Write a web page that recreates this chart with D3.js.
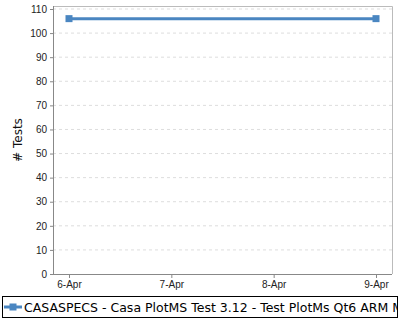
<!DOCTYPE html>
<html>
<head>
<meta charset="utf-8">
<script src="https://cdn.jsdelivr.net/npm/d3@7"></script>
<style>
  body { margin: 0; background: #fff; }
  svg { display: block; font-family: "DejaVu Sans", sans-serif; }
  .tick text { font-size: 10px; fill: #222; }
</style>
</head>
<body>
<svg id="chart" width="400" height="320"></svg>
<script>
const dates = ["6-Apr", "7-Apr", "8-Apr", "9-Apr"]
const pointDates = ["6-Apr", "9-Apr"]
const testCounts = [106, 106]
const yTicks = [0, 10, 20, 30, 40, 50, 60, 70, 80, 90, 100, 110]
const seriesName = "CASASPECS - Casa PlotMS Test 3.12 - Test PlotMs Qt6 ARM M"

const W = 400, H = 320
const M = { top: 6, right: 8, bottom: 46, left: 53 }
const color = "#4a86c1"

const svg = d3.select("#chart")

const x = d3.scalePoint().domain(dates).range([M.left + 16, W - M.right - 16])
const y = d3.scaleLinear().domain([0, 110]).range([H - M.bottom, M.top + 3])

// grid
svg.append("g")
  .selectAll("line")
  .data(yTicks.filter(d => d > 0))
  .join("line")
  .attr("x1", M.left).attr("x2", W - M.right)
  .attr("y1", d => y(d)).attr("y2", d => y(d))
  .attr("stroke", "#ddd")
  .attr("stroke-dasharray", "3,3")

// frame top/right
svg.append("path")
  .attr("d", `M${M.left},${M.top}.5H${W - M.right}.5V${H - M.bottom}`)
  .attr("fill", "none")
  .attr("stroke", "#bbb")

const yAxis = svg.append("g")
  .attr("transform", `translate(${M.left},0)`)
  .call(d3.axisLeft(y).tickValues(yTicks).tickSize(3).tickPadding(3))
yAxis.select(".domain").attr("stroke", "#888").attr("d", `M0.5,${M.top}V${H - M.bottom}`)
yAxis.selectAll(".tick line").attr("stroke", "#888")

const xAxis = svg.append("g")
  .attr("transform", `translate(0,${H - M.bottom})`)
  .call(d3.axisBottom(x).tickSize(4).tickPadding(3))
xAxis.select(".domain").attr("stroke", "#888").attr("d", `M${M.left},0.5H${W - M.right}`)
xAxis.selectAll(".tick line").attr("stroke", "#888")

svg.append("text")
  .attr("transform", `translate(22,${(M.top + H - M.bottom) / 2}) rotate(-90)`)
  .attr("text-anchor", "middle")
  .attr("font-size", 12)
  .attr("fill", "#111")
  .text("# Tests")

// series
const pts = pointDates.map((d, i) => ({ d, v: testCounts[i] }))
svg.append("path")
  .datum(pts)
  .attr("fill", "none")
  .attr("stroke", color)
  .attr("stroke-width", 3)
  .attr("d", d3.line().x(p => x(p.d)).y(p => y(p.v)))
svg.append("g")
  .selectAll("rect")
  .data(pts)
  .join("rect")
  .attr("x", p => x(p.d) - 3.5).attr("y", p => y(p.v) - 3.5)
  .attr("width", 7).attr("height", 7)
  .attr("fill", color)

// legend, text clipped at the box edge as in the original
svg.append("clipPath").attr("id", "lgclip")
  .append("rect").attr("x", 2).attr("y", 296).attr("width", 395).attr("height", 22)
const lg = svg.append("g")
lg.append("rect")
  .attr("x", 2.5).attr("y", 296.5).attr("width", 395).attr("height", 21)
  .attr("fill", "#fff").attr("stroke", "#000")
lg.append("line")
  .attr("x1", 4).attr("x2", 22).attr("y1", 307).attr("y2", 307)
  .attr("stroke", color).attr("stroke-width", 3)
lg.append("rect")
  .attr("x", 9.5).attr("y", 303.5).attr("width", 7).attr("height", 7)
  .attr("fill", color)
lg.append("text")
  .attr("clip-path", "url(#lgclip)")
  .attr("x", 24).attr("y", 311.5)
  .attr("font-size", 12.5)
  .attr("fill", "#000")
  .text(seriesName)
</script>
</body>
</html>
